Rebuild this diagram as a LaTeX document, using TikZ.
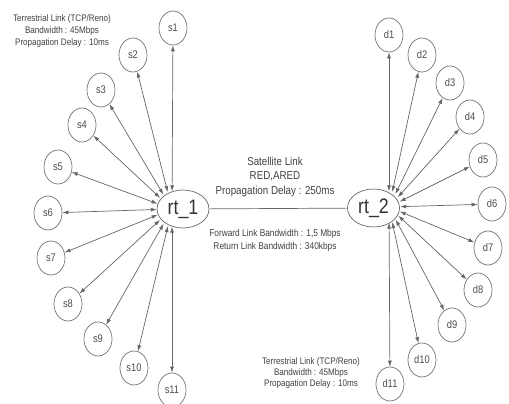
\documentclass[tikz,border=0pt]{standalone}
\usepackage{fontspec}
\setmainfont{Liberation Sans}[FakeStretch=0.85]
\usetikzlibrary{shapes.geometric,arrows.meta}
\begin{document}
\begin{tikzpicture}[x=1pt,y=-1pt]
\tikzset{
 leaf/.style={ellipse, draw=black!55, line width=0.7pt, minimum width=28pt, minimum height=34pt, inner sep=0pt, text=black!70, font=\fontsize{11}{11}\selectfont},
 router/.style={ellipse, draw=black!60, line width=0.7pt, minimum width=52pt, minimum height=38pt, inner sep=0pt, font=\fontsize{21}{21}\selectfont, text=black!80},
 hub/.style={ellipse, inner sep=0pt},
 link/.style={draw=black!60, line width=0.7pt, {Latex[length=6pt,width=4pt]}-{Latex[length=6pt,width=4pt]}},
 sat/.style={draw=black!60, line width=0.7pt},
 info/.style={align=center, text=black!75, inner sep=0pt}
}
\useasboundingbox (0,0) rectangle (509,404);
% routers
\node[router] (rt1) at (183,209) {rt\_1};
\node[router] (rt2) at (373.5,208) {rt\_2};
\node[hub, minimum width=30pt, minimum height=35pt] (h1) at (172,209) {};
\node[hub, minimum width=22pt, minimum height=31pt] (h2) at (389,207) {};
% sources
\node[leaf] (s1) at (173,28) {s1};
\node[leaf] (s2) at (133,55) {s2};
\node[leaf] (s3) at (101,90) {s3};
\node[leaf] (s4) at (82,125) {s4};
\node[leaf] (s5) at (58,167) {s5};
\node[leaf] (s6) at (48,213) {s6};
\node[leaf] (s7) at (51,258) {s7};
\node[leaf] (s8) at (68,304) {s8};
\node[leaf] (s9) at (98,339) {s9};
\node[leaf] (s10) at (134,368) {s10};
\node[leaf] (s11) at (172,390) {s11};
% destinations
\node[leaf] (d1) at (389,35) {d1};
\node[leaf] (d2) at (422,55) {d2};
\node[leaf] (d3) at (450,83) {d3};
\node[leaf] (d4) at (470,117) {d4};
\node[leaf] (d5) at (483,160) {d5};
\node[leaf] (d6) at (492,204) {d6};
\node[leaf] (d7) at (488,248) {d7};
\node[leaf] (d8) at (478,290) {d8};
\node[leaf] (d9) at (452,325) {d9};
\node[leaf] (d10) at (422,360) {d10};
\node[leaf] (d11) at (390,384) {d11};
% links
\foreach \i in {1,...,11} {
  \draw[link] (s\i) -- (h1);
  \draw[link] (d\i) -- (h2);
}
\draw[sat] (rt1) -- (rt2);
% texts
\node[info, font=\fontsize{9.5}{11.8}\selectfont] (t1) at (62,31) {Terrestrial Link (TCP/Reno)\\Bandwidth : 45Mbps\\Propagation Delay : 10ms};
\node[info, font=\fontsize{11.5}{14.5}\selectfont] (t2) at (275,177) {Satellite Link\\RED,ARED\\Propagation Delay : 250ms};
\node[info, font=\fontsize{9.8}{13}\selectfont] (t3) at (275,240) {Forward Link Bandwidth : 1,5 Mbps\\Return Link Bandwidth : 340kbps};
\node[info, font=\fontsize{9.5}{11.3}\selectfont] (t4) at (311,373) {Terrestrial Link (TCP/Reno)\\Bandwidth : 45Mbps\\Propagation Delay : 10ms};
\end{tikzpicture}
\end{document}
